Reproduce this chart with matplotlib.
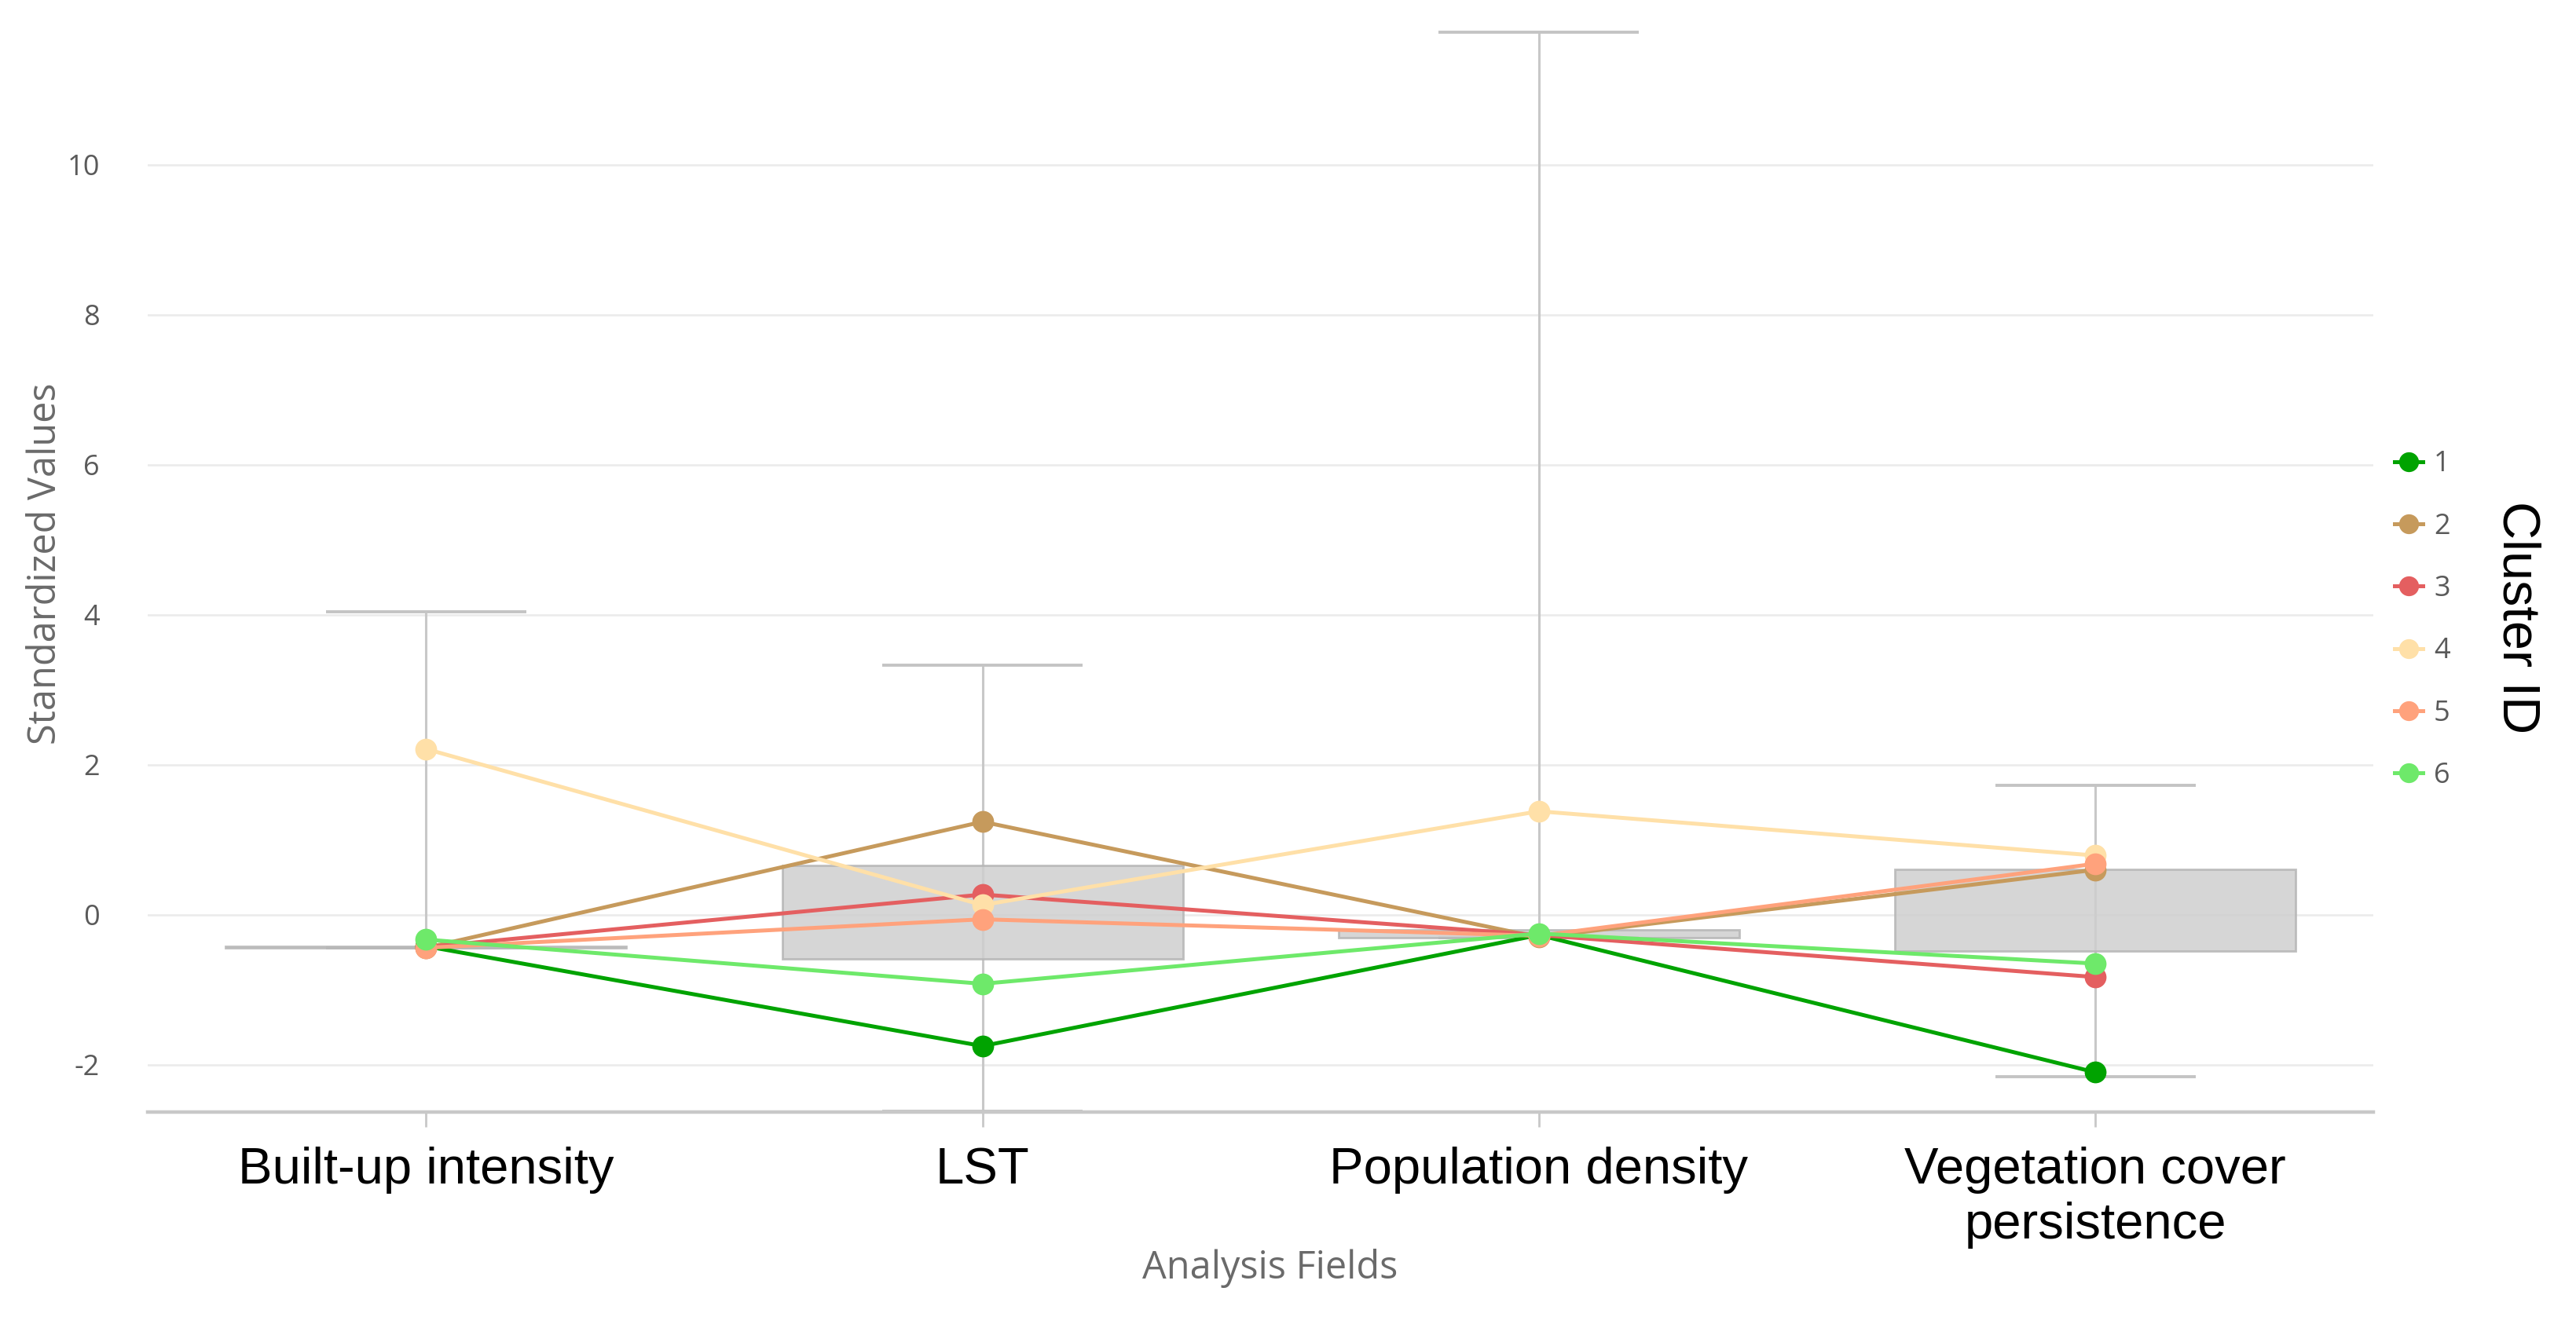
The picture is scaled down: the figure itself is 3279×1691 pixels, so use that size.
"""Perfil de clusters: valores estandarizados por campo de análisis."""

import matplotlib.pyplot as plt

# DATOS

FIELDS = ["Built-up intensity", "LST", "Population density", "Vegetation cover\npersistence"]
CLUSTER_IDS = ["1", "2", "3", "4", "5", "6"]

CLUSTER_1 = [-0.42, -1.75, -0.27, -2.10]
CLUSTER_2 = [-0.44, 1.24, -0.30, 0.60]
CLUSTER_3 = [-0.43, 0.27, -0.27, -0.83]
CLUSTER_4 = [2.21, 0.13, 1.38, 0.79]
CLUSTER_5 = [-0.44, -0.06, -0.28, 0.68]
CLUSTER_6 = [-0.33, -0.92, -0.25, -0.65]

# resumen de cajas por campo
BOX_Q1 = [-0.44, -0.59, -0.31, -0.48]
BOX_Q3 = [-0.44, 0.66, -0.20, 0.61]
WHISKER_LOW = [-0.44, -2.62, -0.31, -2.16]
WHISKER_HIGH = [4.04, 3.33, 11.77, 1.73]

Y_TICKS = [-2, 0, 2, 4, 6, 8, 10]

CLUSTER_COLORS = ["#00a300", "#c69a5c", "#e45f60", "#ffe0a8", "#ffa27c", "#6ee96a"]


def main() -> None:
    fig = plt.figure(figsize=(16.395, 8.455), dpi=200)
    ax = fig.add_axes([0.0574, 0.1626, 0.864, 0.8264])

    positions = list(range(len(FIELDS)))
    box_width = 0.72
    cap_width = 0.36

    # grid
    for y in Y_TICKS:
        ax.axhline(y, color="#ececec", linewidth=1.0, zorder=0)

    # cajas y bigotes
    ax.vlines(positions, WHISKER_LOW, WHISKER_HIGH, color="#c8c8c8", linewidth=1.1, zorder=1)
    for pos, low, high in zip(positions, WHISKER_LOW, WHISKER_HIGH):
        ax.hlines([low, high], pos - cap_width / 2, pos + cap_width / 2, color="#c4c4c4", linewidth=1.4, zorder=1)
    heights = [max(q3 - q1, 0.02) for q1, q3 in zip(BOX_Q1, BOX_Q3)]
    ax.bar(positions, heights, bottom=BOX_Q1, width=box_width, color="#cfcfcf", alpha=0.85,
           edgecolor="#b5b5b5", linewidth=1.0, zorder=2)

    series = [CLUSTER_1, CLUSTER_2, CLUSTER_3, CLUSTER_4, CLUSTER_5, CLUSTER_6]
    for label, values, color in zip(CLUSTER_IDS, series, CLUSTER_COLORS):
        ax.plot(positions, values, color=color, linewidth=1.8, marker="o", markersize=9,
                label=label, zorder=3)

    ax.set_xlim(-0.5, 3.5)
    ax.set_ylim(-2.63, 12.0)
    ax.set_yticks(Y_TICKS)
    ax.set_yticklabels([str(v) for v in Y_TICKS], fontfamily="Open Sans", fontsize=13, color="#5a5a5a")
    ax.tick_params(axis="y", length=0, pad=22)
    ax.set_xticks(positions)
    ax.set_xticklabels(FIELDS, fontfamily="Liberation Sans", fontsize=23.5, color="black", linespacing=1.2)
    ax.tick_params(axis="x", length=7, width=1.0, color="#c8c8c8", pad=9)

    for side in ["top", "right", "left"]:
        ax.spines[side].set_visible(False)
    ax.spines["bottom"].set_color("#c8c8c8")
    ax.spines["bottom"].set_linewidth(1.6)

    ax.set_ylabel("Standardized Values", fontfamily="Open Sans", fontsize=17.5, color="#6a6a6a")
    ax.yaxis.set_label_coords(-0.037, 0.5)
    fig.text(0.493, 0.045, "Analysis Fields", fontfamily="Open Sans", fontsize=17.5, color="#6a6a6a",
             ha="center", va="center")

    legend = fig.legend(loc="center left", bbox_to_anchor=(0.9195, 0.533), frameon=False,
                        prop={"family": "Open Sans", "size": 13}, labelspacing=1.2,
                        handlelength=1.0, handletextpad=0.4, markerscale=0.9)
    for text in legend.get_texts():
        text.set_color("#5a5a5a")
    fig.text(0.977, 0.535, "Cluster ID", fontfamily="Liberation Sans", fontsize=24, color="black",
             rotation=-90, ha="center", va="center")

    fig.savefig("out.png", dpi=200)
    plt.close(fig)


if __name__ == "__main__":
    main()
